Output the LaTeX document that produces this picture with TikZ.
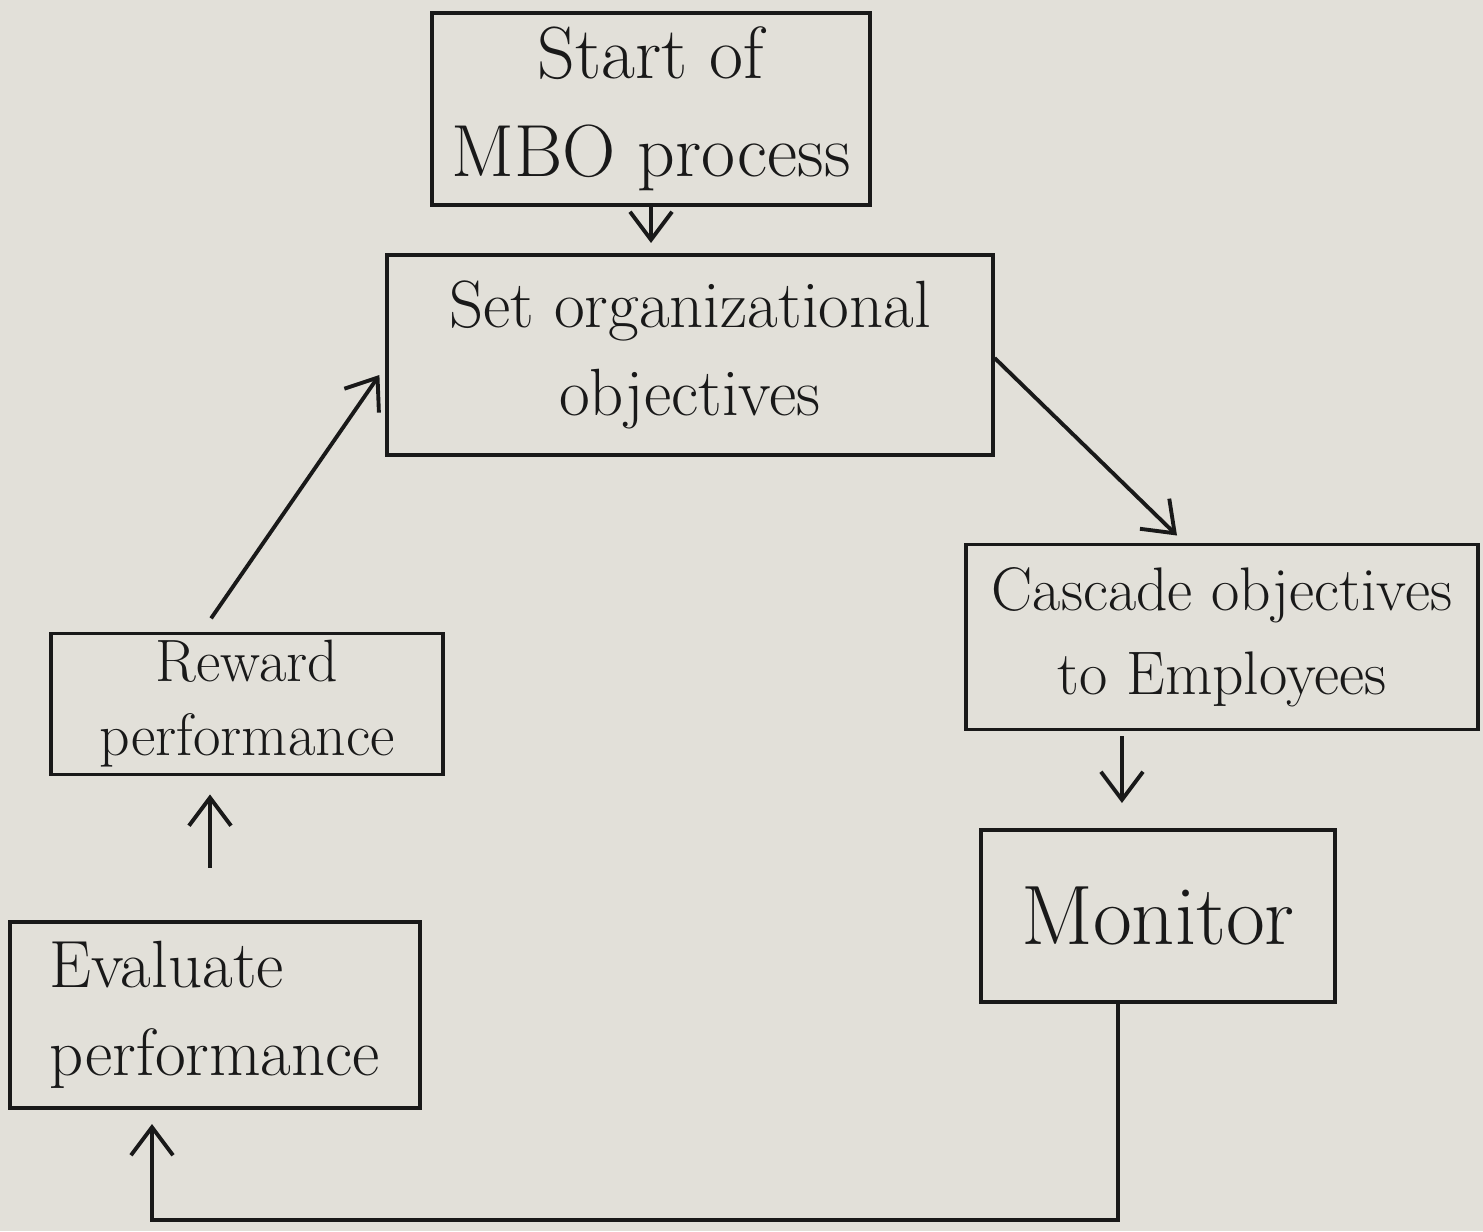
\documentclass[tikz,border=0pt]{standalone}
\usetikzlibrary{arrows.meta,calc}
\definecolor{paper}{RGB}{226,224,217}
\definecolor{ink}{RGB}{25,25,25}
\begin{document}
\begin{tikzpicture}[x=0.01cm,y=-0.01cm,
  box/.style={draw=ink,line width=1.1pt,inner sep=2pt,text=ink,font=\fontsize{19}{25}\selectfont},
  arr/.style={draw=ink,line width=1.1pt,-{Straight Barb[length=0.28cm,width=0.42cm,line width=1.1pt]}},
  conn/.style={draw=ink,line width=1.1pt}]
\fill[paper] (0,0) rectangle (1483,1231);
\useasboundingbox (0,0) rectangle (1483,1231);
\node[box,minimum width=4.37cm,minimum height=1.92cm,align=center,font=\fontsize{21}{28}\selectfont] (start) at (651,109) {Start of\\MBO process};
\node[box,minimum width=6.05cm,minimum height=2.0cm,align=center] (set) at (690,355) {Set organizational\\objectives};
\node[box,minimum width=5.12cm,minimum height=1.85cm,align=center,font=\fontsize{17.5}{24}\selectfont] (cascade) at (1222,637) {Cascade objectives\\to Employees};
\node[box,minimum width=3.53cm,minimum height=1.72cm,align=center,font=\fontsize{24}{30}\selectfont] (monitor) at (1158,916) {Monitor};
\node[box,minimum width=4.1cm,minimum height=1.86cm,align=left] (evaluate) at (215,1015) {Evaluate\\performance};
\node[box,minimum width=3.91cm,minimum height=1.36cm,align=center,font=\fontsize{17}{21}\selectfont] (reward) at (247,704) {Reward\\performance};
% connectors
\draw[arr,shorten >=0.1cm] (start.south) -- (start.south |- set.north);
\draw[arr] ([yshift=-0.03cm]set.east) -- ([xshift=-0.45cm,yshift=0.07cm]cascade.north);
\draw[arr,shorten <=0.05cm,shorten >=0.25cm] ([xshift=-1.0cm]cascade.south) -- ([xshift=-1.0cm]cascade.south |- monitor.north);
\coordinate (c1) at ($(monitor.south)+(-0.4cm,0)$);
\coordinate (c2) at (1118,1220);
\coordinate (c3) at (152,1220);
\draw[arr,shorten >=0.14cm] (c1) -- (c2) -- (c3) -- (c3 |- evaluate.south);
\draw[arr,shorten <=0.52cm,shorten >=0.18cm] ([xshift=-0.05cm]evaluate.north) -- ([xshift=-0.05cm]evaluate.north |- reward.south);
\draw[arr,shorten <=0.16cm] ([xshift=-0.45cm]reward.north) -- ([xshift=-0.06cm,yshift=-0.2cm]set.west);
\end{tikzpicture}
\end{document}
